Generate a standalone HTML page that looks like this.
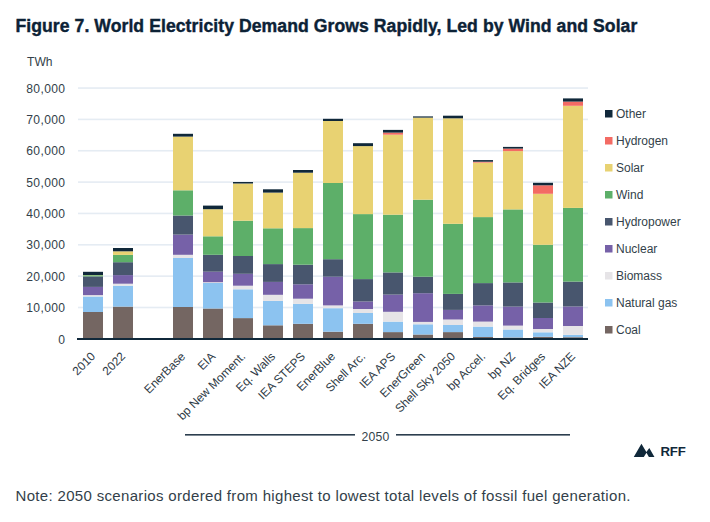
<!DOCTYPE html>
<html><head><meta charset="utf-8"><style>
html,body{margin:0;padding:0;background:#fff;}
body{width:710px;height:522px;overflow:hidden;}
svg{display:block;}
text{font-family:"Liberation Sans",sans-serif;}
.title{font-weight:bold;font-size:17.6px;letter-spacing:0.07px;fill:#0c2236;stroke:#0c2236;stroke-width:0.4px;}
.yl{font-size:12.1px;letter-spacing:0.35px;fill:#333f4a;}
.xl{font-size:11.9px;fill:#2e3a45;}
.lg{font-size:12px;fill:#333f4a;}
.note{font-size:15px;letter-spacing:0.33px;fill:#333f4a;}
.rff{font-weight:bold;font-size:13.2px;letter-spacing:-0.25px;fill:#10283a;}
</style></head><body>
<svg width="710" height="522" viewBox="0 0 710 522">
<rect x="78" y="87.25" width="510" height="1.6" fill="#e5ecf3"/>
<rect x="78" y="118.6" width="510" height="1.6" fill="#e5ecf3"/>
<rect x="78" y="149.95" width="510" height="1.6" fill="#e5ecf3"/>
<rect x="78" y="181.3" width="510" height="1.6" fill="#e5ecf3"/>
<rect x="78" y="212.65" width="510" height="1.6" fill="#e5ecf3"/>
<rect x="78" y="244" width="510" height="1.6" fill="#e5ecf3"/>
<rect x="78" y="275.35" width="510" height="1.6" fill="#e5ecf3"/>
<rect x="78" y="306.7" width="510" height="1.6" fill="#e5ecf3"/>
<rect x="83" y="312" width="20" height="26" fill="#746662"/>
<rect x="83" y="296.5" width="20" height="15.5" fill="#8cc3f0"/>
<rect x="83" y="295.1" width="20" height="1.4" fill="#e6e4e7"/>
<rect x="83" y="286.9" width="20" height="8.2" fill="#7661a8"/>
<rect x="83" y="276.4" width="20" height="10.5" fill="#48566e"/>
<rect x="83" y="275.2" width="20" height="1.2" fill="#5daf69"/>
<rect x="83" y="275" width="20" height="0.2" fill="#e8d272"/>
<rect x="83" y="271.8" width="20" height="3.2" fill="#10283a"/>
<rect x="113" y="306.6" width="20" height="31.4" fill="#746662"/>
<rect x="113" y="285.7" width="20" height="20.9" fill="#8cc3f0"/>
<rect x="113" y="283.7" width="20" height="2" fill="#e6e4e7"/>
<rect x="113" y="275.1" width="20" height="8.6" fill="#7661a8"/>
<rect x="113" y="262.2" width="20" height="12.9" fill="#48566e"/>
<rect x="113" y="254.9" width="20" height="7.3" fill="#5daf69"/>
<rect x="113" y="251.3" width="20" height="3.6" fill="#e8d272"/>
<rect x="113" y="248" width="20" height="3.3" fill="#10283a"/>
<rect x="173" y="307" width="20" height="31" fill="#746662"/>
<rect x="173" y="258" width="20" height="49" fill="#8cc3f0"/>
<rect x="173" y="254.8" width="20" height="3.2" fill="#e6e4e7"/>
<rect x="173" y="234.6" width="20" height="20.2" fill="#7661a8"/>
<rect x="173" y="215.5" width="20" height="19.1" fill="#48566e"/>
<rect x="173" y="190.3" width="20" height="25.2" fill="#5daf69"/>
<rect x="173" y="136.6" width="20" height="53.7" fill="#e8d272"/>
<rect x="173" y="133.8" width="20" height="2.8" fill="#10283a"/>
<rect x="203" y="308.5" width="20" height="29.5" fill="#746662"/>
<rect x="203" y="283" width="20" height="25.5" fill="#8cc3f0"/>
<rect x="203" y="282.2" width="20" height="0.8" fill="#e6e4e7"/>
<rect x="203" y="271.7" width="20" height="10.5" fill="#7661a8"/>
<rect x="203" y="254.8" width="20" height="16.9" fill="#48566e"/>
<rect x="203" y="236.3" width="20" height="18.5" fill="#5daf69"/>
<rect x="203" y="209.2" width="20" height="27.1" fill="#e8d272"/>
<rect x="203" y="205.6" width="20" height="3.6" fill="#10283a"/>
<rect x="233" y="318.1" width="20" height="19.9" fill="#746662"/>
<rect x="233" y="289.3" width="20" height="28.8" fill="#8cc3f0"/>
<rect x="233" y="285.7" width="20" height="3.6" fill="#e6e4e7"/>
<rect x="233" y="273.8" width="20" height="11.9" fill="#7661a8"/>
<rect x="233" y="256" width="20" height="17.8" fill="#48566e"/>
<rect x="233" y="220.7" width="20" height="35.3" fill="#5daf69"/>
<rect x="233" y="183.5" width="20" height="37.2" fill="#e8d272"/>
<rect x="233" y="182" width="20" height="1.5" fill="#10283a"/>
<rect x="263" y="325.3" width="20" height="12.7" fill="#746662"/>
<rect x="263" y="300.9" width="20" height="24.4" fill="#8cc3f0"/>
<rect x="263" y="294.8" width="20" height="6.1" fill="#e6e4e7"/>
<rect x="263" y="281.9" width="20" height="12.9" fill="#7661a8"/>
<rect x="263" y="264.1" width="20" height="17.8" fill="#48566e"/>
<rect x="263" y="228.3" width="20" height="35.8" fill="#5daf69"/>
<rect x="263" y="192.6" width="20" height="35.7" fill="#e8d272"/>
<rect x="263" y="189.3" width="20" height="3.3" fill="#10283a"/>
<rect x="293" y="323.8" width="20" height="14.2" fill="#746662"/>
<rect x="293" y="303.9" width="20" height="19.9" fill="#8cc3f0"/>
<rect x="293" y="298.7" width="20" height="5.2" fill="#e6e4e7"/>
<rect x="293" y="284.3" width="20" height="14.4" fill="#7661a8"/>
<rect x="293" y="264.7" width="20" height="19.6" fill="#48566e"/>
<rect x="293" y="228.1" width="20" height="36.6" fill="#5daf69"/>
<rect x="293" y="172.7" width="20" height="55.4" fill="#e8d272"/>
<rect x="293" y="170" width="20" height="2.7" fill="#10283a"/>
<rect x="323" y="331.7" width="20" height="6.3" fill="#746662"/>
<rect x="323" y="308.2" width="20" height="23.5" fill="#8cc3f0"/>
<rect x="323" y="305.4" width="20" height="2.8" fill="#e6e4e7"/>
<rect x="323" y="276.7" width="20" height="28.7" fill="#7661a8"/>
<rect x="323" y="259.2" width="20" height="17.5" fill="#48566e"/>
<rect x="323" y="183" width="20" height="76.2" fill="#5daf69"/>
<rect x="323" y="121" width="20" height="62" fill="#e8d272"/>
<rect x="323" y="118.8" width="20" height="2.2" fill="#10283a"/>
<rect x="353" y="323.8" width="20" height="14.2" fill="#746662"/>
<rect x="353" y="313" width="20" height="10.8" fill="#8cc3f0"/>
<rect x="353" y="309" width="20" height="4" fill="#e6e4e7"/>
<rect x="353" y="301.5" width="20" height="7.5" fill="#7661a8"/>
<rect x="353" y="279.1" width="20" height="22.4" fill="#48566e"/>
<rect x="353" y="214.1" width="20" height="65" fill="#5daf69"/>
<rect x="353" y="146.1" width="20" height="68" fill="#e8d272"/>
<rect x="353" y="143.2" width="20" height="2.9" fill="#10283a"/>
<rect x="383" y="332.1" width="20" height="5.9" fill="#746662"/>
<rect x="383" y="321.6" width="20" height="10.5" fill="#8cc3f0"/>
<rect x="383" y="311.8" width="20" height="9.8" fill="#e6e4e7"/>
<rect x="383" y="294.6" width="20" height="17.2" fill="#7661a8"/>
<rect x="383" y="272.4" width="20" height="22.2" fill="#48566e"/>
<rect x="383" y="214.7" width="20" height="57.7" fill="#5daf69"/>
<rect x="383" y="134.7" width="20" height="80" fill="#e8d272"/>
<rect x="383" y="132.6" width="20" height="2.1" fill="#f36b64"/>
<rect x="383" y="129.9" width="20" height="2.7" fill="#10283a"/>
<rect x="413" y="334.5" width="20" height="3.5" fill="#746662"/>
<rect x="413" y="324.3" width="20" height="10.2" fill="#8cc3f0"/>
<rect x="413" y="321.9" width="20" height="2.4" fill="#e6e4e7"/>
<rect x="413" y="293.2" width="20" height="28.7" fill="#7661a8"/>
<rect x="413" y="276.7" width="20" height="16.5" fill="#48566e"/>
<rect x="413" y="199.7" width="20" height="77" fill="#5daf69"/>
<rect x="413" y="117.6" width="20" height="82.1" fill="#e8d272"/>
<rect x="413" y="116.4" width="20" height="1.2" fill="#10283a"/>
<rect x="443" y="332.1" width="20" height="5.9" fill="#746662"/>
<rect x="443" y="325" width="20" height="7.1" fill="#8cc3f0"/>
<rect x="443" y="319.5" width="20" height="5.5" fill="#e6e4e7"/>
<rect x="443" y="309.9" width="20" height="9.6" fill="#7661a8"/>
<rect x="443" y="293.9" width="20" height="16" fill="#48566e"/>
<rect x="443" y="223.8" width="20" height="70.1" fill="#5daf69"/>
<rect x="443" y="118.3" width="20" height="105.5" fill="#e8d272"/>
<rect x="443" y="115.7" width="20" height="2.6" fill="#10283a"/>
<rect x="473" y="337" width="20" height="1" fill="#746662"/>
<rect x="473" y="326.6" width="20" height="10.4" fill="#8cc3f0"/>
<rect x="473" y="321.6" width="20" height="5" fill="#e6e4e7"/>
<rect x="473" y="305.4" width="20" height="16.2" fill="#7661a8"/>
<rect x="473" y="283.1" width="20" height="22.3" fill="#48566e"/>
<rect x="473" y="217.1" width="20" height="66" fill="#5daf69"/>
<rect x="473" y="162.6" width="20" height="54.5" fill="#e8d272"/>
<rect x="473" y="161.7" width="20" height="0.9" fill="#f36b64"/>
<rect x="473" y="160.1" width="20" height="1.6" fill="#10283a"/>
<rect x="503" y="337.5" width="20" height="0.5" fill="#746662"/>
<rect x="503" y="329.5" width="20" height="8" fill="#8cc3f0"/>
<rect x="503" y="325.6" width="20" height="3.9" fill="#e6e4e7"/>
<rect x="503" y="306.6" width="20" height="19" fill="#7661a8"/>
<rect x="503" y="282.4" width="20" height="24.2" fill="#48566e"/>
<rect x="503" y="209.4" width="20" height="73" fill="#5daf69"/>
<rect x="503" y="151.1" width="20" height="58.3" fill="#e8d272"/>
<rect x="503" y="148.6" width="20" height="2.5" fill="#f36b64"/>
<rect x="503" y="146.9" width="20" height="1.7" fill="#10283a"/>
<rect x="533" y="336.8" width="20" height="1.2" fill="#746662"/>
<rect x="533" y="332.3" width="20" height="4.5" fill="#8cc3f0"/>
<rect x="533" y="329" width="20" height="3.3" fill="#e6e4e7"/>
<rect x="533" y="318" width="20" height="11" fill="#7661a8"/>
<rect x="533" y="302.5" width="20" height="15.5" fill="#48566e"/>
<rect x="533" y="244.8" width="20" height="57.7" fill="#5daf69"/>
<rect x="533" y="193.8" width="20" height="51" fill="#e8d272"/>
<rect x="533" y="185.3" width="20" height="8.5" fill="#f36b64"/>
<rect x="533" y="182.8" width="20" height="2.5" fill="#10283a"/>
<rect x="563" y="337.2" width="20" height="0.8" fill="#746662"/>
<rect x="563" y="334.8" width="20" height="2.4" fill="#8cc3f0"/>
<rect x="563" y="326" width="20" height="8.8" fill="#e6e4e7"/>
<rect x="563" y="306.5" width="20" height="19.5" fill="#7661a8"/>
<rect x="563" y="281.6" width="20" height="24.9" fill="#48566e"/>
<rect x="563" y="207.9" width="20" height="73.7" fill="#5daf69"/>
<rect x="563" y="105.8" width="20" height="102.1" fill="#e8d272"/>
<rect x="563" y="101.6" width="20" height="4.2" fill="#f36b64"/>
<rect x="563" y="98.4" width="20" height="3.2" fill="#10283a"/>
<rect x="77" y="338" width="511" height="2" fill="#10283a"/>
<text x="65.4" y="92.65" text-anchor="end" class="yl">80,000</text>
<text x="65.4" y="124" text-anchor="end" class="yl">70,000</text>
<text x="65.4" y="155.35" text-anchor="end" class="yl">60,000</text>
<text x="65.4" y="186.7" text-anchor="end" class="yl">50,000</text>
<text x="65.4" y="218.05" text-anchor="end" class="yl">40,000</text>
<text x="65.4" y="249.4" text-anchor="end" class="yl">30,000</text>
<text x="65.4" y="280.75" text-anchor="end" class="yl">20,000</text>
<text x="65.4" y="312.1" text-anchor="end" class="yl">10,000</text>
<text x="65.4" y="344.2" text-anchor="end" class="yl">0</text>
<text x="96" y="357.2" text-anchor="end" class="xl" transform="rotate(-45 96 357.2)">2010</text>
<text x="126" y="357.2" text-anchor="end" class="xl" transform="rotate(-45 126 357.2)">2022</text>
<text x="186" y="357.2" text-anchor="end" class="xl" transform="rotate(-45 186 357.2)">EnerBase</text>
<text x="216" y="357.2" text-anchor="end" class="xl" transform="rotate(-45 216 357.2)">EIA</text>
<text x="246" y="357.2" text-anchor="end" class="xl" transform="rotate(-45 246 357.2)">bp New Moment.</text>
<text x="276" y="357.2" text-anchor="end" class="xl" transform="rotate(-45 276 357.2)">Eq. Walls</text>
<text x="306" y="357.2" text-anchor="end" class="xl" transform="rotate(-45 306 357.2)">IEA STEPS</text>
<text x="336" y="357.2" text-anchor="end" class="xl" transform="rotate(-45 336 357.2)">EnerBlue</text>
<text x="366" y="357.2" text-anchor="end" class="xl" transform="rotate(-45 366 357.2)">Shell Arc.</text>
<text x="396" y="357.2" text-anchor="end" class="xl" transform="rotate(-45 396 357.2)">IEA APS</text>
<text x="426" y="357.2" text-anchor="end" class="xl" transform="rotate(-45 426 357.2)">EnerGreen</text>
<text x="456" y="357.2" text-anchor="end" class="xl" transform="rotate(-45 456 357.2)">Shell Sky 2050</text>
<text x="486" y="357.2" text-anchor="end" class="xl" transform="rotate(-45 486 357.2)">bp Accel.</text>
<text x="516" y="357.2" text-anchor="end" class="xl" transform="rotate(-45 516 357.2)">bp NZ</text>
<text x="546" y="357.2" text-anchor="end" class="xl" transform="rotate(-45 546 357.2)">Eq. Bridges</text>
<text x="576" y="357.2" text-anchor="end" class="xl" transform="rotate(-45 576 357.2)">IEA NZE</text>
<rect x="185" y="434" width="170" height="1.6" fill="#2c3e4e"/>
<rect x="396" y="434" width="174" height="1.6" fill="#2c3e4e"/>
<text x="361.5" y="440.7" class="yl" style="font-size:12.2px;letter-spacing:0.2px">2050</text>
<rect x="605" y="110" width="7.5" height="7.5" fill="#10283a"/>
<text x="616" y="117.5" class="lg">Other</text>
<rect x="605" y="137" width="7.5" height="7.5" fill="#f36b64"/>
<text x="616" y="144.5" class="lg">Hydrogen</text>
<rect x="605" y="164" width="7.5" height="7.5" fill="#e8d272"/>
<text x="616" y="171.5" class="lg">Solar</text>
<rect x="605" y="191" width="7.5" height="7.5" fill="#5daf69"/>
<text x="616" y="198.5" class="lg">Wind</text>
<rect x="605" y="218" width="7.5" height="7.5" fill="#48566e"/>
<text x="616" y="225.5" class="lg">Hydropower</text>
<rect x="605" y="245" width="7.5" height="7.5" fill="#7661a8"/>
<text x="616" y="252.5" class="lg">Nuclear</text>
<rect x="605" y="272" width="7.5" height="7.5" fill="#e6e4e7"/>
<text x="616" y="279.5" class="lg">Biomass</text>
<rect x="605" y="299" width="7.5" height="7.5" fill="#8cc3f0"/>
<text x="616" y="306.5" class="lg">Natural gas</text>
<rect x="605" y="326" width="7.5" height="7.5" fill="#746662"/>
<text x="616" y="333.5" class="lg">Coal</text>
<text x="15.4" y="31.7" class="title">Figure 7. World Electricity Demand Grows Rapidly, Led by Wind and Solar</text>
<text x="27" y="65.7" class="yl" style="letter-spacing:0">TWh</text>
<text x="15.5" y="500.6" class="note">Note: 2050 scenarios ordered from highest to lowest total levels of fossil fuel generation.</text>
<path d="M633.75 457 L641.44 443.75 L646.35 452.1 L649.32 448.08 L654.45 457 L648.9 457 L646.45 452.7 L643.8 457 Z" fill="#10283a"/>
<text x="660.6" y="455.6" class="rff">RFF</text>
</svg>
</body></html>
